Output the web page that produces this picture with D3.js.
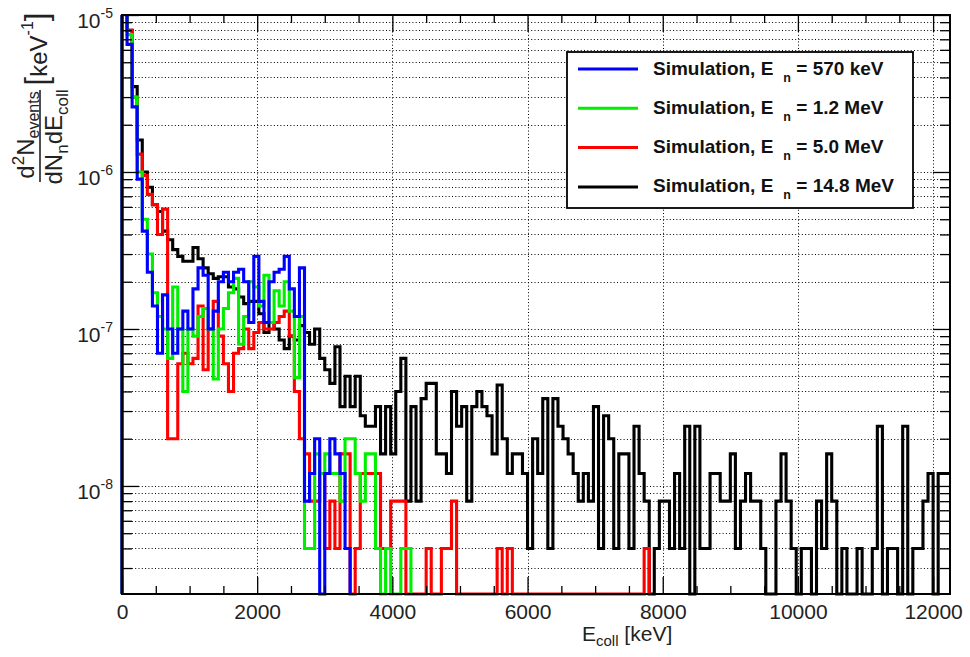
<!DOCTYPE html>
<html>
<head>
<meta charset="utf-8">
<script src="https://cdn.jsdelivr.net/npm/d3@7"></script>
<style>
  body { margin: 0; background: #fff; }
  svg { display: block; font-family: "Liberation Sans", Arial, Helvetica, sans-serif; }
</style>
</head>
<body>
<div id="chart"></div>
<script>
// bin width of all histograms (keV)
var binWidth = 75;

// histogram contents, one value per bin starting at 0 keV, in units of 1e-9 keV^-1
var blue570 = [20000, 6500, 2600, 900, 420, 230, 140, 70, 165, 100, 70, 100, 130, 100, 180, 245, 220, 100, 130, 200,
    230, 200, 230, 240, 200, 110, 290, 150, 110, 200, 230, 240, 290, 180, 120, 245, 8, 12, 20, 0,
    12, 20, 16, 12, 4];
var green1200 = [20000, 7500, 3000, 1000, 500, 300, 170, 120, 100, 65, 185, 100, 40, 100, 90, 120, 135, 100, 48, 100,
    135, 170, 210, 80, 120, 200, 185, 140, 220, 110, 175, 140, 200, 130, 49, 120, 4, 4, 16, 12,
    16, 12, 12, 8, 20, 20, 12, 8, 16, 16, 4, 0, 4, 0, 0, 4, 4];
var red5000 = [20000, 8000, 3000, 1300, 950, 720, 620, 400, 580, 20, 20, 60, 70, 60, 65, 140, 55, 100, 150, 90,
    60, 40, 70, 75, 100, 75, 95, 110, 100, 100, 110, 120, 130, 90, 40, 20, 16, 8, 8, 12,
    4, 8, 4, 16, 16, 0, 4, 12, 12, 12, 12, 4, 4, 8, 8, 8, 0, 0, 0, 0,
    4, 0, 0, 4, 4, 8, 0, 0, 0, 0, 0, 0, 0, 0, 4, 0, 4, 0, 0, 0,
    0, 0, 0, 0, 0, 0, 0, 0, 0, 0, 0, 0, 0, 0, 0, 0, 0, 0, 0, 0,
    0, 0, 0, 4];
var black14800 = [20000, 8000, 3500, 1600, 1000, 800, 620, 560, 420, 370, 320, 290, 270, 270, 330, 280, 245, 225, 210, 215,
    215, 185, 180, 160, 145, 150, 150, 125, 95, 110, 100, 85, 75, 90, 85, 105, 95, 80, 100, 65,
    55, 45, 77, 32, 50, 32, 50, 28, 24, 24, 32, 16, 32, 16, 40, 65, 8, 32, 8, 36,
    45, 45, 16, 16, 12, 40, 24, 32, 8, 32, 40, 32, 28, 16, 44, 20, 12, 16, 16, 12,
    4, 20, 12, 36, 4, 36, 24, 20, 16, 12, 8, 12, 8, 32, 4, 28, 20, 4, 16, 16,
    4, 24, 12, 8, 0, 4, 8, 8, 4, 12, 4, 24, 0, 24, 4, 4, 12, 12, 8, 8,
    16, 4, 8, 12, 8, 8, 4, 0, 0, 8, 16, 8, 4, 0, 4, 4, 0, 8, 4, 16,
    8, 0, 4, 0, 0, 4, 0, 0, 4, 24, 0, 4, 4, 0, 24, 0, 4, 4, 8, 12,
    0, 12, 12, 12];

// legend
var seriesColors = ["#0000ff", "#00ee00", "#ff0000", "#000000"];
var seriesEnergies = ["570 keV", "1.2 MeV", "5.0 MeV", "14.8 MeV"];

// axes
var xMajorTicks = [0, 2000, 4000, 6000, 8000, 10000, 12000];
var yDecades = [1e-8, 1e-7, 1e-6, 1e-5];
var yExponents = ["-8", "-7", "-6", "-5"];

// frame of the plot
var frameL = 122, frameR = 950, frameT = 15, frameB = 594;

var svg = d3.select("#chart").append("svg")
    .attr("width", 970)
    .attr("height", 657);

svg.append("rect").attr("width", 970).attr("height", 657).attr("fill", "#fff");

var x = d3.scaleLinear().domain([0, 12250]).range([frameL, frameR]);
var y = d3.scaleLog().domain([2.05e-9, 1e-5]).range([frameB, frameT]);

// minor tick positions
var xMinorTicks = d3.range(0, 12250, 500).filter(function(d) { return d % 2000 != 0; });
var yMinorTicks = [];
yDecades.concat([1e-9]).forEach(function(dec) {
    for (var k = 2; k <= 9; k++) {
        var v = dec * k;
        if (v >= 2.05e-9 && v < 1e-5) yMinorTicks.push(v);
    }
});

// dotted grid
var grid = svg.append("g").attr("stroke", "#000").attr("stroke-width", 1).attr("stroke-dasharray", "1,2.3");
grid.selectAll(".gx").data(xMajorTicks.filter(function(d) { return d > 0; }))
    .enter().append("line")
    .attr("x1", function(d) { return Math.round(x(d)) + 0.5; })
    .attr("x2", function(d) { return Math.round(x(d)) + 0.5; })
    .attr("y1", frameT).attr("y2", frameB);
grid.selectAll(".gy").data(yDecades.concat(yMinorTicks))
    .enter().append("line")
    .attr("y1", function(d) { return Math.round(y(d)) + 0.5; })
    .attr("y2", function(d) { return Math.round(y(d)) + 0.5; })
    .attr("x1", frameL).attr("x2", frameR);

// histograms
svg.append("clipPath").attr("id", "clip")
    .append("rect").attr("x", frameL - 2).attr("y", frameT).attr("width", frameR - frameL + 2).attr("height", frameB - frameT + 3);

function histPoints(values) {
    var pts = [[x(0), frameB]];
    values.forEach(function(v, i) {
        var yy = v > 0 ? y(v * 1e-9) : frameB;
        pts.push([x(i * binWidth), yy]);
        pts.push([x((i + 1) * binWidth), yy]);
    });
    pts.push([x(values.length * binWidth), frameB]);
    return pts;
}

var line = d3.line();
var hists = svg.append("g").attr("clip-path", "url(#clip)");
[[black14800, seriesColors[3]], [red5000, seriesColors[2]], [green1200, seriesColors[1]], [blue570, seriesColors[0]]]
    .forEach(function(s) {
        hists.append("path")
            .attr("d", line(histPoints(s[0])))
            .attr("fill", "none")
            .attr("stroke", s[1])
            .attr("stroke-width", 3.1)
            .attr("stroke-linejoin", "miter");
    });

// axes ticks (inward, on all four sides)
function styleAxis(g) {
    g.select(".domain").remove();
    g.selectAll(".tick line").attr("stroke", "#000").attr("stroke-width", 1.3);
}
svg.append("g").attr("transform", "translate(0," + frameB + ")")
    .call(d3.axisBottom(x).tickValues(xMajorTicks).tickSize(-17).tickPadding(10).tickFormat(d3.format("d")))
    .call(styleAxis)
    .selectAll("text").attr("font-size", 21).attr("fill", "#222").attr("font-family", null);
svg.append("g").attr("transform", "translate(0," + frameB + ")")
    .call(d3.axisBottom(x).tickValues(xMinorTicks).tickSize(-8).tickFormat(""))
    .call(styleAxis);
svg.append("g").attr("transform", "translate(0," + frameT + ")")
    .call(d3.axisTop(x).tickValues(xMajorTicks).tickSize(-17).tickFormat(""))
    .call(styleAxis);
svg.append("g").attr("transform", "translate(0," + frameT + ")")
    .call(d3.axisTop(x).tickValues(xMinorTicks).tickSize(-8).tickFormat(""))
    .call(styleAxis);
svg.append("g").attr("transform", "translate(" + frameL + ",0)")
    .call(d3.axisLeft(y).tickValues(yDecades).tickSize(-17).tickFormat(""))
    .call(styleAxis);
svg.append("g").attr("transform", "translate(" + frameL + ",0)")
    .call(d3.axisLeft(y).tickValues(yMinorTicks).tickSize(-10).tickFormat(""))
    .call(styleAxis);
svg.append("g").attr("transform", "translate(" + frameR + ",0)")
    .call(d3.axisRight(y).tickValues(yDecades).tickSize(-17).tickFormat(""))
    .call(styleAxis);
svg.append("g").attr("transform", "translate(" + frameR + ",0)")
    .call(d3.axisRight(y).tickValues(yMinorTicks).tickSize(-10).tickFormat(""))
    .call(styleAxis);

// frame
svg.append("rect")
    .attr("x", frameL).attr("y", frameT)
    .attr("width", frameR - frameL).attr("height", frameB - frameT)
    .attr("fill", "none").attr("stroke", "#000").attr("stroke-width", 2);

// y tick labels 10^n
yDecades.forEach(function(d, i) {
    var t = svg.append("text")
        .attr("x", 113).attr("y", y(d) + 13)
        .attr("text-anchor", "end")
        .attr("fill", "#222")
        .attr("font-size", 21);
    t.append("tspan").text("10");
    t.append("tspan").attr("dy", -10).attr("font-size", 14).text(yExponents[i]);
});

// x axis title
var xt = svg.append("text")
    .attr("x", 582).attr("y", 641)
    .attr("text-anchor", "start")
    .attr("fill", "#222")
    .attr("font-size", 21);
xt.append("tspan").text("E");
xt.append("tspan").attr("dy", 5).attr("font-size", 15).text("coll");
xt.append("tspan").attr("dy", -5).text(" [keV]");

// y axis title (rotated fraction)
var yt = svg.append("g").attr("transform", "rotate(-90)").attr("fill", "#222").attr("font-size", 24);
var num = yt.append("text").attr("x", -135).attr("y", 34).attr("text-anchor", "middle");
num.append("tspan").text("d");
num.append("tspan").attr("dy", -10).attr("font-size", 17).text("2");
num.append("tspan").attr("dy", 10).text("N");
num.append("tspan").attr("dy", 5).attr("font-size", 16).text("events");
var den = yt.append("text").attr("x", -137).attr("y", 62).attr("text-anchor", "middle");
den.append("tspan").text("dN");
den.append("tspan").attr("dy", 6).attr("font-size", 17).text("n");
den.append("tspan").attr("dy", -6).text("dE");
den.append("tspan").attr("dy", 6).attr("font-size", 17).text("coll");
var unit = yt.append("text").attr("x", -49).attr("y", 47).attr("text-anchor", "middle");
unit.append("tspan").attr("font-size", 31).text("[");
unit.append("tspan").text("keV");
unit.append("tspan").attr("dy", -14).attr("font-size", 16).text("-1");
unit.append("tspan").attr("dy", 14).attr("font-size", 31).text("]");
svg.append("line")
    .attr("x1", 40).attr("x2", 40).attr("y1", 90).attr("y2", 182)
    .attr("stroke", "#222").attr("stroke-width", 1.6);

// legend
var lg = svg.append("g");
lg.append("rect")
    .attr("x", 567).attr("y", 52).attr("width", 346).attr("height", 156)
    .attr("fill", "#fff").attr("stroke", "#000").attr("stroke-width", 1.8);
seriesEnergies.forEach(function(e, i) {
    var ly = 69 + i * 39.3;
    lg.append("line")
        .attr("x1", 578).attr("x2", 638).attr("y1", ly).attr("y2", ly)
        .attr("stroke", seriesColors[i]).attr("stroke-width", 3);
    var t = lg.append("text")
        .attr("x", 653).attr("y", ly + 5.5)
        .attr("font-size", 19).attr("font-weight", "bold").attr("fill", "#111");
    t.append("tspan").text("Simulation, E");
    t.append("tspan").attr("dx", 10).attr("dy", 7).attr("font-size", 12.5).text("n");
    t.append("tspan").attr("dy", -7).text(" = " + e);
});
</script>
</body>
</html>
